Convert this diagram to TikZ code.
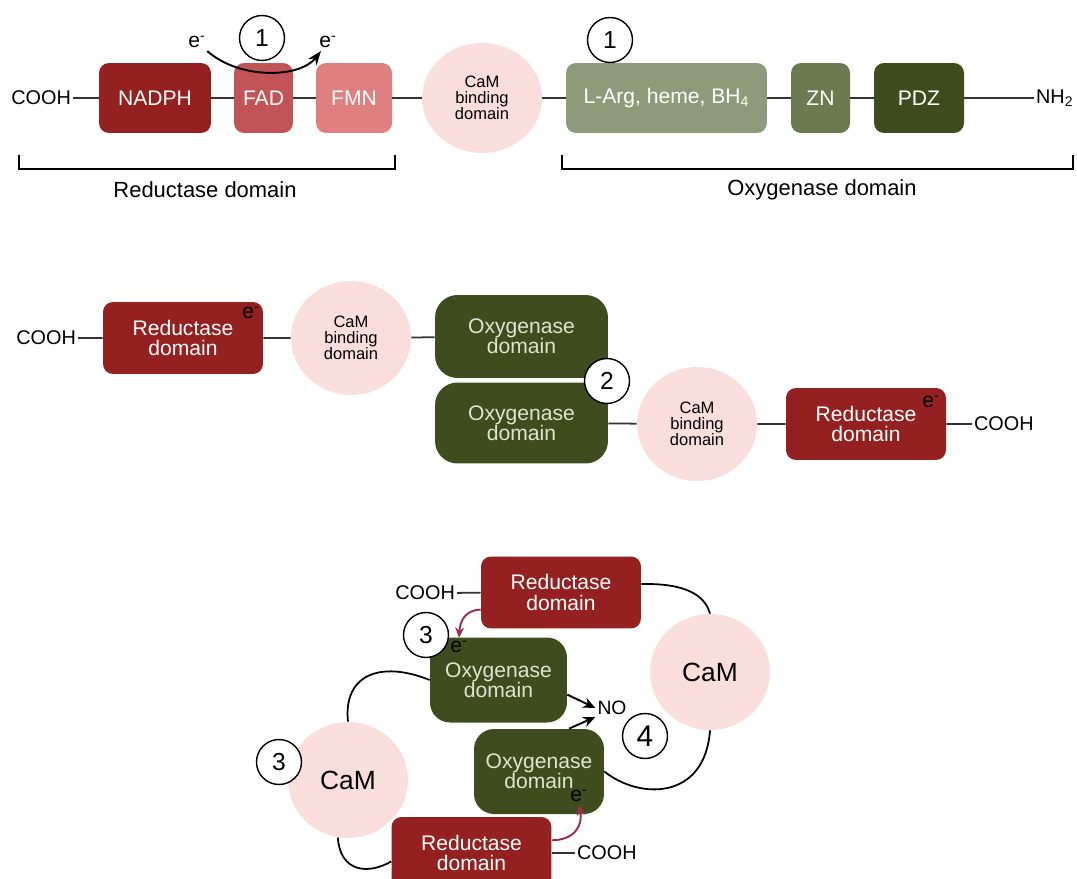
\documentclass[tikz,border=0pt]{standalone}
\usepackage{fontspec}
\setmainfont{Liberation Sans}
\usetikzlibrary{arrows.meta, shapes.geometric}

\definecolor{nadphC}{HTML}{942020}
\definecolor{fadC}{HTML}{C25458}
\definecolor{fmnC}{HTML}{E07F80}
\definecolor{camC}{HTML}{F9DEDB}
\definecolor{largC}{HTML}{8D9B7A}
\definecolor{znC}{HTML}{6B7B4F}
\definecolor{oxyC}{HTML}{3F4D1E}
\definecolor{oxyT}{HTML}{DFE3D0}
\definecolor{lineC}{HTML}{333333}
\definecolor{elecC}{HTML}{A02C4C}

\tikzset{
	box/.style={rectangle, rounded corners=0.2cm, inner sep=0pt, minimum height=1.4cm, text=white, align=center, font=\fontsize{12}{11.5}\selectfont},
	redbox/.style={box, fill=nadphC, minimum width=3.2cm, minimum height=1.44cm},
	oxybox/.style={box, fill=oxyC, text=oxyT, rounded corners=0.45cm},
	cambox/.style={ellipse, fill=camC, inner sep=0pt, minimum width=2.4cm, minimum height=2.3cm, align=center, font=\fontsize{9.4}{9.2}\selectfont},
	numc/.style={circle, draw, line width=0.8pt, fill=white, minimum size=0.9cm, inner sep=0pt, font=\fontsize{14}{14}\selectfont},
	link/.style={line width=1pt, draw=lineC},
	elec/.style={inner sep=1.5pt, font=\fontsize{12}{12}\selectfont},
	term/.style={inner sep=1pt, font=\fontsize{11.3}{12}\selectfont},
}

\begin{document}
\begin{tikzpicture}[x=0.02cm, y=-0.02cm]
	\useasboundingbox (0,0) rectangle (1077,878);

	% full chain
	\node[term, anchor=east] (cooh1) at (73,98) {COOH};
	\node[box, fill=nadphC, minimum width=2.24cm] (nadph) at (155,98) {NADPH};
	\node[box, fill=fadC, minimum width=1.18cm] (fad) at (263.5,98) {FAD};
	\node[box, fill=fmnC, minimum width=1.52cm] (fmn) at (354,98) {FMN};
	\node[cambox, minimum height=2.2cm] (cam1) at (482,98) {CaM\\binding\\domain};
	\node[box, fill=largC, minimum width=4.02cm] (larg) at (666.5,98) {L-Arg, heme, BH\textsubscript{4}};
	\node[box, fill=znC, minimum width=1.18cm] (zn) at (820.5,98) {ZN};
	\node[box, fill=oxyC, minimum width=1.8cm] (pdz) at (919,98) {PDZ};
	\node[term, anchor=west] (nh2) at (1034,98) {NH\textsubscript{2}};
	\draw[link] (cooh1) -- (nadph) -- (fad) -- (fmn) -- (cam1) -- (larg) -- (zn) -- (pdz) -- (nh2);

	\node[elec] (e1a) at (197,42) {e\textsuperscript{-}};
	\node[elec] (e1b) at (328,42) {e\textsuperscript{-}};
	\draw[-{Stealth[length=8pt,width=6pt]}, line width=1.1pt] (e1a) .. controls (240,80) and (300,78) .. (e1b);
	\node[numc] (n1a) at (262,38) {1};
	\node[numc] (n1b) at (610,40) {1};

	\coordinate (rb1) at (19,155);
	\coordinate (rb2) at (395,155);
	\coordinate (ob1) at (562,155);
	\coordinate (ob2) at (1073,155);
	\draw[link, draw=black] (rb1) -- ++(0,14) -| (rb2);
	\draw[link, draw=black] (ob1) -- ++(0,14) -| (ob2);
	\node[font=\fontsize{12.5}{13}\selectfont] (redlab) at (205,190) {Reductase domain};
	\node[font=\fontsize{12.5}{13}\selectfont] (oxylab) at (822,190) {Oxygenase domain};

	% dimer
	\node[term, anchor=east] (cooh2a) at (78,338) {COOH};
	\node[redbox] (red2a) at (183,338) {Reductase\\domain};
	\node[cambox, minimum height=2.28cm] (cam2a) at (351,338) {CaM\\binding\\domain};
	\node[oxybox, minimum width=3.46cm, minimum height=1.66cm] (oxy2a) at (521.5,336.5) {Oxygenase\\domain};
	\node[oxybox, minimum width=3.46cm, minimum height=1.62cm] (oxy2b) at (521.5,423) {Oxygenase\\domain};
	\node[cambox, minimum height=2.28cm] (cam2b) at (697,424) {CaM\\binding\\domain};
	\node[redbox] (red2b) at (866,424) {Reductase\\domain};
	\node[term, anchor=west] (cooh2b) at (972,424) {COOH};
	\node[elec] (e2a) at (251,313) {e\textsuperscript{-}};
	\node[elec] (e2b) at (931,402) {e\textsuperscript{-}};
	\draw[link] (cooh2a) -- (red2a) -- (cam2a) -- (oxy2a);
	\draw[link] (oxy2b) -- (cam2b) -- (red2b) -- (cooh2b);
	\node[numc] (n2) at (607,381) {2};

	% active dimer with CaM
	\node[redbox] (red3a) at (561,592.5) {Reductase\\domain};
	\node[term, anchor=east] (cooh3a) at (457,593) {COOH};
	\node[oxybox, rounded corners=0.4cm, minimum width=2.74cm, minimum height=1.7cm] (oxy3a) at (498.5,680) {Oxygenase\\domain};
	\node[oxybox, rounded corners=0.4cm, minimum width=2.6cm, minimum height=1.7cm] (oxy3b) at (539,771.5) {Oxygenase\\domain};
	\node[cambox, minimum height=2.32cm, font=\fontsize{15}{15}\selectfont] (cam3r) at (710,672) {CaM};
	\node[cambox, minimum height=2.32cm, font=\fontsize{15}{15}\selectfont] (cam3l) at (348,780) {CaM};
	\node[redbox] (red3b) at (471.5,853) {Reductase\\domain};
	\node[term, anchor=west] (cooh3b) at (575,853) {COOH};
	\node[elec] (e3a) at (459,647) {e\textsuperscript{-}};
	\node[elec] (e3b) at (579,796) {e\textsuperscript{-}};
	\node[inner sep=1pt, font=\fontsize{11}{11}\selectfont] (no) at (612,708) {NO};

	\draw[link] (cooh3a) -- (red3a);
	\draw[link] (red3b) -- (cooh3b);
	\draw[link, draw=black] (red3a.6) .. controls (685,583) and (705,595) .. (cam3r.north);
	\draw[link, draw=black] (cam3r.south) .. controls (705,800) and (640,800) .. (oxy3b.east);
	\draw[link, draw=black] (cam3l.north) .. controls (343,675) and (380,660) .. (oxy3a.west);
	\draw[link, draw=black] (cam3l.260) .. controls (340,872) and (368,875) .. (red3b.186);

	\draw[-{Stealth[length=6pt,width=5pt]}, line width=1.1pt, elecC] (red3a.192) .. controls (466,610) and (460,620) .. (e3a.north);
	\draw[-{Stealth[length=6pt,width=5pt]}, line width=1.1pt, elecC] (red3b.9) .. controls (575,840) and (583,825) .. (e3b.south);
	\draw[-{Stealth[length=7pt,width=6pt]}, line width=1.1pt] (oxy3a.-12) -- (no.west);
	\draw[-{Stealth[length=7pt,width=6pt]}, line width=1.1pt] (oxy3b.55) -- (no.south west);

	\node[numc] (n3a) at (426,635) {3};
	\node[numc] (n3b) at (279,762) {3};
	\node[numc, font=\fontsize{17}{17}\selectfont] (n4) at (645,736) {4};
\end{tikzpicture}
\end{document}
